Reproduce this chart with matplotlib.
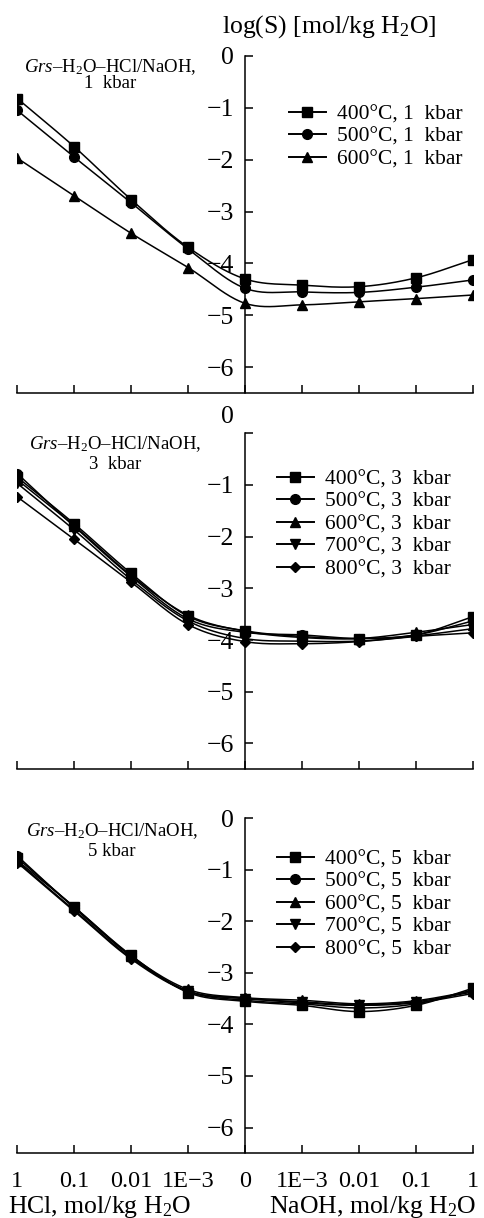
import numpy as np
import matplotlib
matplotlib.use('Agg')
import matplotlib.pyplot as plt
from matplotlib.lines import Line2D

plt.rcParams['font.family'] = ['Liberation Serif', 'DejaVu Serif']
plt.rcParams['mathtext.fontset'] = 'custom'
plt.rcParams['mathtext.rm'] = 'Liberation Serif'
plt.rcParams['mathtext.it'] = 'Liberation Serif:italic'
plt.rcParams['mathtext.bf'] = 'Liberation Serif:bold'

# ---------------- data ----------------
x_tick_labels = ['1', '0.1', '0.01', '1E\u22123', '0', '1E\u22123', '0.01', '0.1', '1']
y_ticks = [0, -1, -2, -3, -4, -5, -6]

labels_1kbar = ['400°C, 1  kbar', '500°C, 1  kbar', '600°C, 1  kbar']
s1_400 = [-0.82, -1.75, -2.77, -3.69, -4.30, -4.42, -4.45, -4.28, -3.93]
s1_500 = [-1.05, -1.95, -2.83, -3.72, -4.48, -4.55, -4.56, -4.46, -4.32]
s1_600 = [-1.97, -2.70, -3.42, -4.08, -4.77, -4.80, -4.74, -4.68, -4.61]

labels_3kbar = ['400°C, 3  kbar', '500°C, 3  kbar', '600°C, 3  kbar',
                '700°C, 3  kbar', '800°C, 3  kbar']
s3_400 = [-0.85, -1.75, -2.71, -3.54, -3.82, -3.93, -3.97, -3.90, -3.55]
s3_500 = [-0.78, -1.80, -2.77, -3.59, -3.85, -3.90, -3.97, -3.90, -3.63]
s3_600 = [-0.90, -1.79, -2.75, -3.52, -3.83, -3.95, -3.97, -3.85, -3.70]
s3_700 = [-0.97, -1.87, -2.83, -3.63, -3.97, -4.02, -4.02, -3.92, -3.78]
s3_800 = [-1.23, -2.05, -2.88, -3.70, -4.03, -4.07, -4.03, -3.93, -3.86]

labels_5kbar = ['400°C, 5  kbar', '500°C, 5  kbar', '600°C, 5  kbar',
                '700°C, 5  kbar', '800°C, 5  kbar']
s5_400 = [-0.77, -1.72, -2.66, -3.38, -3.55, -3.63, -3.75, -3.63, -3.30]
s5_500 = [-0.73, -1.74, -2.68, -3.36, -3.53, -3.60, -3.68, -3.60, -3.33]
s5_600 = [-0.82, -1.72, -2.67, -3.32, -3.48, -3.53, -3.60, -3.54, -3.35]
s5_700 = [-0.84, -1.78, -2.71, -3.35, -3.50, -3.56, -3.62, -3.56, -3.37]
s5_800 = [-0.86, -1.80, -2.73, -3.36, -3.49, -3.58, -3.63, -3.58, -3.40]

markers = ['s', 'o', '^', 'v', 'D']
marker_sizes = [7, 7, 7.5, 7.5, 5.5]


def smooth_curve(xs, ys, n=24):
    """Bezier smoothing (Excel-like) through the given points for line drawing."""
    P = np.column_stack([xs, ys]).astype(float)
    Pext = np.vstack([2 * P[0] - P[1], P, 2 * P[-1] - P[-2]])
    t = np.linspace(0, 1, n)[:, None]
    out = []
    for i in range(1, len(Pext) - 2):
        p0, p1, p2, p3 = Pext[i - 1:i + 3]
        c1 = p1 + (p2 - p0) / 6.0
        c2 = p2 - (p3 - p1) / 6.0
        seg = ((1 - t) ** 3) * p1 + 3 * ((1 - t) ** 2) * t * c1 + 3 * (1 - t) * t ** 2 * c2 + t ** 3 * p2
        out.append(seg if i == 1 else seg[1:])
    out = np.vstack(out)
    return out[:, 0], out[:, 1]


W, H = 484, 1218
fig = plt.figure(figsize=(W / 100, H / 100), dpi=100)


def px_rect(left, top, right, bottom):
    return [left / W, 1 - bottom / H, (right - left) / W, (bottom - top) / H]


panels = [
    dict(rect=px_rect(17.3, 56, 472.7, 393), series=[s1_400, s1_500, s1_600], labels=labels_1kbar,
         note=('$\\mathit{Grs}$\u2013H$_2$O\u2013HCl/NaOH,', '1  kbar'), note_xy=(110, 67, 84),
         leg=(289, 104)),
    dict(rect=px_rect(17.3, 433.3, 472.7, 769.3), series=[s3_400, s3_500, s3_600, s3_700, s3_800],
         labels=labels_3kbar,
         note=('$\\mathit{Grs}$\u2013H$_2$O\u2013HCl/NaOH,', '3  kbar'), note_xy=(115, 444, 465),
         leg=(277, 469)),
    dict(rect=px_rect(17.3, 818.3, 472.7, 1153.3), series=[s5_400, s5_500, s5_600, s5_700, s5_800],
         labels=labels_5kbar,
         note=('$\\mathit{Grs}$\u2013H$_2$O\u2013HCl/NaOH,', '5 kbar'), note_xy=(112, 831, 851),
         leg=(277, 849)),
]

xs = np.arange(len(x_tick_labels))
for k, p in enumerate(panels):
    ax = fig.add_axes(p['rect'])
    ax.set_xlim(xs[0], xs[-1])
    ax.set_ylim(-6.5, 0)
    ax.spines['top'].set_visible(False)
    ax.spines['right'].set_visible(False)
    ax.spines['left'].set_position(('data', xs[4]))
    for s in ax.spines.values():
        s.set_linewidth(1.1)
    ax.set_xticks(xs)
    if k == 2:
        ax.set_xticklabels(x_tick_labels, fontsize=17.5)
    else:
        ax.set_xticklabels([])
    ax.set_yticks(y_ticks)
    ylabs = ['0' if v == 0 else '\u2212%d' % (-v) for v in y_ticks]
    if k == 1:
        ylabs[0] = ''
        ax.annotate('0', xy=(xs[4], 0), xytext=(-8, 12), textcoords='offset points',
                    ha='right', va='center', fontsize=18.5, annotation_clip=False)
    ax.set_yticklabels(ylabs, fontsize=18.5)
    ax.tick_params(axis='both', direction='in', length=6, width=1.1)
    ax.tick_params(axis='y', pad=8)
    ax.tick_params(axis='x', pad=13)
    for lab in ax.get_yticklabels():
        lab.set_bbox(dict(facecolor='white', edgecolor='none', pad=0.5))

    handles = []
    for i, ys in enumerate(p['series']):
        cx, cy = smooth_curve(xs, ys)
        ax.plot(cx, cy, color='black', lw=1.1, zorder=2)
        ax.plot(xs, ys, ls='none', marker=markers[i], ms=marker_sizes[i], color='black', zorder=3)
        handles.append(Line2D([], [], color='black', lw=1.4, marker=markers[i], ms=marker_sizes[i]))

    lx, ly = p['leg']
    ax.legend(handles, p['labels'], loc='upper left', bbox_to_anchor=(lx / W, 1 - ly / H),
              bbox_transform=fig.transFigure, frameon=False, fontsize=15.5,
              handlelength=1.7, handletextpad=0.55, labelspacing=0.12, borderpad=0,
              borderaxespad=0)

    nx, ny1, ny2 = p['note_xy']
    fig.text(nx / W, 1 - ny1 / H, p['note'][0], ha='center', va='center', fontsize=13.5)
    fig.text(nx / W, 1 - ny2 / H, p['note'][1], ha='center', va='center', fontsize=13.5)

fig.text(222 / W, 1 - 27 / H, 'log(S) [mol/kg H$_2$O]', ha='left', va='center', fontsize=18.5)
fig.text(8 / W, 1 - 1207 / H, 'HCl, mol/kg H$_2$O', ha='left', va='center', fontsize=18.5)
fig.text(269 / W, 1 - 1207 / H, 'NaOH, mol/kg H$_2$O', ha='left', va='center', fontsize=18.5)

fig.savefig('out.png', dpi=100)
